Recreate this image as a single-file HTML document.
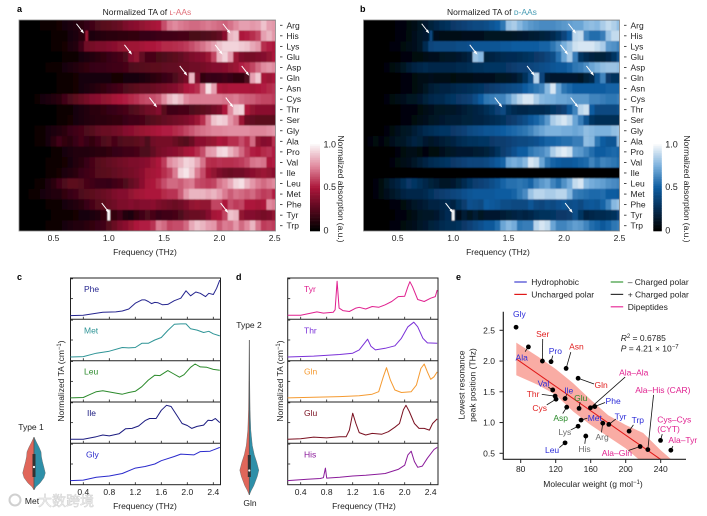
<!DOCTYPE html>
<html lang="en">
<head>
<meta charset="utf-8">
<title>Normalized TA of amino acids</title>
<style>
html,body{margin:0;padding:0;background:#fff;width:707px;height:516px;overflow:hidden}
svg{display:block;filter:blur(0.3px)}
text{font-family:"Liberation Sans","Noto Sans CJK SC",sans-serif;font-size:8.5px;fill:#222}
.bold{font-weight:700;font-size:9px;fill:#000}
</style>
</head>
<body>
<svg id="chart" xmlns="http://www.w3.org/2000/svg" width="707" height="516" viewBox="0 0 707 516">
<defs>
<filter id="soft" x="-2%" y="-2%" width="104%" height="104%"><feGaussianBlur stdDeviation="0.55"/></filter>
<clipPath id="clipA"><rect x="19" y="20" width="256.5" height="211"/></clipPath>
<clipPath id="clipB"><rect x="363.5" y="20" width="256" height="211"/></clipPath>
<clipPath id="clipE"><rect x="503" y="300" width="184" height="159.3"/></clipPath>
</defs>
<g id="root"></g>
</svg>
<script>
const rowNames=['Arg','His','Lys','Glu','Asp','Gln','Asn','Cys','Thr','Ser','Gly','Ala','Pro','Val','Ile','Leu','Met','Phe','Tyr','Trp'];
const heatFreqStart=0.2;
const heatFreqStep=0.05;
const heatTicks=[0.5,1.0,1.5,2.0,2.5];
const colorbarTicks=[0,0.5,1.0];

const redArg=[0,0,0,0,2,3,4,5,6,8,10,12,15,18,22,25,26,28,30,35,38,40,42,45,48,50,62,72,75,72,70,68,68,70,72,70,68,66,70,75,80,80,78,80,88,80,78];
const redHis=[0,0,0,0,0,1,2,3,4,6,8,12,14,8,10,11,12,12,13,13,14,14,15,15,16,17,18,18,19,20,20,21,21,22,23,25,28,40,85,88,50,52,55,60,80,85,78];
const redLys=[0,0,0,0,0,1,2,3,5,8,10,18,32,34,36,36,38,40,42,44,46,46,48,50,50,52,54,54,55,56,58,62,66,70,75,80,88,92,92,92,90,88,82,78,55,52,50];
const redGlu=[0,0,0,0,0,0,1,1,2,3,4,6,8,10,12,14,16,18,20,22,38,42,28,20,20,21,22,24,26,28,32,36,38,40,45,60,85,92,80,45,36,34,34,36,38,42,50];
const redAsp=[0,0,0,0,1,2,3,4,6,8,10,12,14,15,16,16,17,18,18,20,22,23,24,25,26,26,27,28,28,30,30,32,32,34,36,38,38,40,42,45,52,55,60,68,75,78,75];
const redGln=[0,0,0,0,0,1,1,2,3,4,5,6,6,6,7,7,6,5,5,6,6,7,8,10,12,14,16,18,22,28,34,85,35,14,16,15,16,18,16,14,14,22,80,90,48,45,50];
const redAsn=[0,0,0,0,0,1,1,2,3,4,5,6,8,10,12,14,16,18,20,22,24,26,28,28,30,32,34,36,38,42,50,52,55,70,95,80,50,48,50,50,50,50,48,50,52,54,56];
const redCys=[0,0,0,2,6,8,10,12,18,22,26,30,34,38,40,42,44,48,50,52,54,56,60,62,62,65,75,85,90,85,75,72,72,72,72,72,72,70,70,72,68,66,65,62,60,60,58];
const redThr=[0,0,0,0,0,0,1,2,3,4,6,8,10,12,12,14,15,16,18,20,22,24,28,32,34,38,25,18,18,20,20,22,24,26,28,32,36,50,75,90,92,50,42,40,40,40,38];
const redSer=[0,0,0,0,0,0,1,2,3,5,6,8,10,11,12,12,13,14,14,16,18,18,20,22,24,26,28,30,32,34,36,40,45,55,72,88,92,90,78,70,45,30,28,26,26,26,26];
const redGly=[0,0,0,2,4,6,8,10,12,16,18,20,22,24,28,30,30,32,34,38,40,42,44,46,48,50,52,52,54,56,60,64,68,70,72,74,74,75,76,76,76,76,74,74,74,76,78];
const redAla=[0,0,1,2,4,6,12,18,14,12,16,20,16,14,18,22,24,20,22,24,24,26,28,22,32,34,34,34,30,26,24,30,40,40,42,44,50,48,55,55,62,55,68,42,38,40,55];
const redPro=[0,0,0,0,1,1,2,4,6,8,10,10,10,11,12,12,14,15,16,18,18,20,22,22,28,34,36,38,40,42,48,50,55,62,78,80,92,94,85,78,68,58,52,50,54,56,52];
const redVal=[0,0,0,0,1,2,3,4,5,7,10,12,16,20,24,26,28,30,32,34,36,36,38,40,45,50,58,75,80,85,92,90,82,70,55,54,56,55,55,56,58,62,70,72,70,50,52];
const redIle=[0,0,0,0,1,2,3,5,8,10,12,16,18,20,24,25,26,28,30,32,34,36,40,46,48,50,55,60,72,92,96,88,72,62,48,42,36,32,30,32,32,36,40,42,45,42,40];
const redLeu=[0,0,1,2,4,8,12,18,22,26,26,24,20,18,16,16,15,18,20,22,28,32,40,48,50,55,62,68,68,65,70,72,62,60,58,60,70,75,82,92,95,85,78,72,68,72,75];
const redMet=[0,1,3,4,6,8,10,10,14,16,18,22,24,26,28,30,32,36,38,38,42,46,48,50,50,50,54,56,56,65,78,85,85,85,82,85,80,72,65,70,68,65,68,62,58,60,52];
const redPhe=[0,0,0,0,1,2,3,4,6,8,10,12,16,20,24,26,30,32,36,36,38,36,38,38,40,36,34,32,30,32,36,42,44,42,42,60,60,50,62,58,60,50,50,48,50,75,72];
const redTyr=[0,0,0,0,0,1,2,3,4,4,5,6,6,8,10,14,20,14,18,10,8,14,18,22,20,16,18,18,20,22,28,30,30,32,38,48,50,60,88,85,42,38,38,36,34,36,42];
const redTrp=[0,0,0,0,1,2,3,4,6,8,10,10,12,14,16,18,24,30,36,40,44,50,52,52,56,72,68,60,62,62,68,82,88,85,80,78,65,72,70,78,68,75,85,70,58,60,58];
const redRows=[redArg,redHis,redLys,redGlu,redAsp,redGln,redAsn,redCys,redThr,redSer,redGly,redAla,redPro,redVal,redIle,redLeu,redMet,redPhe,redTyr,redTrp];

const blueArg=[0,0,0,0,0,1,2,3,4,6,10,14,18,22,26,28,32,34,36,38,40,40,42,46,50,58,82,85,78,72,68,66,64,64,64,66,68,70,72,72,78,80,78,85,90,86,80];
const blueHis=[0,0,0,0,0,1,2,3,5,8,12,14,18,8,6,6,7,7,8,8,8,9,10,10,10,11,11,12,13,14,15,16,18,20,24,30,38,50,88,90,62,55,55,60,82,90,90];
const blueLys=[0,0,0,0,1,2,3,4,6,8,12,24,38,40,40,40,40,42,42,44,46,46,46,46,46,48,48,50,50,50,50,50,52,52,58,65,75,82,92,94,94,94,90,85,68,66,62];
const blueGlu=[0,0,0,0,0,0,1,2,3,4,5,6,8,8,10,12,12,14,16,20,82,78,18,20,22,24,25,25,26,28,30,32,34,38,42,56,72,85,60,30,24,20,18,18,22,30,42];
const blueAsp=[0,0,0,0,2,4,6,10,16,20,22,24,22,22,22,22,22,24,24,26,28,28,30,30,30,30,32,34,36,36,38,40,42,44,46,48,48,52,58,60,65,72,76,80,82,82,80];
const blueGln=[0,0,0,0,0,1,1,2,3,4,6,6,8,7,6,6,5,6,6,7,8,8,8,9,10,11,12,14,18,28,42,88,38,16,14,14,14,14,14,12,18,22,45,62,32,28,28];
const blueAsn=[0,0,0,0,0,1,1,2,3,4,6,10,16,18,20,20,22,24,25,26,28,30,32,34,36,38,40,42,44,50,54,58,62,78,94,72,58,54,50,50,50,50,50,50,52,52,52];
const blueCys=[0,0,0,1,3,5,6,8,10,10,14,18,22,24,24,28,30,32,34,36,42,50,58,60,62,62,70,80,88,94,94,85,78,76,75,72,72,70,68,68,68,62,62,60,58,58,60];
const blueThr=[0,0,0,0,0,0,1,2,2,3,4,6,8,10,10,12,12,14,16,18,20,22,26,30,36,40,28,24,22,22,24,24,24,26,30,32,36,48,62,88,92,50,40,40,40,40,42];
const blueSer=[0,0,0,0,0,0,1,2,3,5,6,8,10,12,14,15,16,16,18,18,20,20,22,24,26,28,32,34,38,42,48,52,58,68,85,90,94,88,72,60,45,30,26,26,26,26,26];
const blueGly=[0,0,0,1,3,5,8,10,12,16,20,24,26,28,30,30,32,34,36,40,42,44,46,46,48,50,52,54,56,58,62,68,72,76,76,76,74,74,72,74,80,78,76,76,76,80,82];
const blueAla=[0,2,5,3,4,8,10,12,16,20,18,14,12,14,16,18,20,24,26,28,28,30,30,32,34,34,36,38,40,40,42,44,48,52,52,54,56,56,60,60,80,78,58,50,46,46,78];
const bluePro=[0,0,0,0,1,1,2,4,6,6,4,3,4,5,8,10,12,14,14,14,15,16,18,22,28,34,38,44,50,50,58,62,64,70,85,92,96,92,70,68,62,55,50,50,52,54,52];
const blueVal=[0,0,0,0,1,2,4,6,8,12,16,20,24,26,28,30,32,34,36,38,38,38,40,44,48,52,72,75,72,78,94,90,72,58,52,50,48,48,50,52,54,62,56,62,60,58,55];
const blueIle=[0,0,0,0,0,0,0,0,0,0,0,0,0,0,0,0,0,0,0,0,0,0,0,0,0,0,0,0,0,0,0,0,0,0,0,0,0,0,0,0,0,0,0,0,0,0,0];
const blueLeu=[0,0,2,5,10,16,20,26,32,30,26,22,18,16,12,12,14,18,24,30,34,36,38,42,46,52,56,56,58,56,52,62,68,72,62,56,66,74,90,94,78,74,72,70,66,64,62];
const blueMet=[0,1,3,5,8,12,15,20,22,22,22,24,28,32,34,36,38,40,44,46,48,48,48,48,50,50,50,52,58,64,82,88,88,85,85,88,88,78,60,58,56,54,54,55,50,50,48];
const bluePhe=[0,0,0,0,1,2,3,5,8,12,14,16,20,20,22,24,20,28,34,44,42,40,50,48,46,42,42,40,40,40,46,40,38,42,40,44,46,42,44,40,46,48,46,52,62,78,82];
const blueTyr=[0,0,0,0,0,1,2,3,4,6,10,12,12,14,20,25,20,8,16,10,16,10,14,14,14,16,18,20,22,20,22,26,28,28,30,32,32,34,42,30,20,22,24,24,26,28,36];
const blueTrp=[0,0,0,0,1,2,3,4,6,8,12,14,18,20,24,26,26,28,32,36,40,44,48,48,55,72,78,74,58,60,60,88,94,90,72,62,62,66,70,68,62,55,52,48,52,58,60];
const blueRows=[blueArg,blueHis,blueLys,blueGlu,blueAsp,blueGln,blueAsn,blueCys,blueThr,blueSer,blueGly,blueAla,bluePro,blueVal,blueIle,blueLeu,blueMet,bluePhe,blueTyr,blueTrp];

const narrowRowsRed=['His','Tyr'];
const narrowFreqsRed=[0.8,1.0];
const narrowValsRed=[0.45,1.0];
const narrowRowsBlue=['His','Tyr'];
const narrowFreqsBlue=[0.8,1.0];
const narrowValsBlue=[0.4,1.0];

const arrowRowsRed=['His','His','Glu','Glu','Gln','Gln','Thr','Thr','Tyr','Tyr'];
const arrowFreqsRed=[0.776,2.10,1.21,2.03,1.71,2.27,1.436,2.126,1.005,2.08];
const arrowRowsBlue=['His','His','Glu','Glu','Gln','Gln','Thr','Thr','Tyr','Tyr'];
const arrowFreqsBlue=[0.785,2.108,1.218,2.036,1.735,2.27,1.443,2.128,1.0,2.078];

const lineTicks=[0.4,0.8,1.2,1.6,2.0,2.4];
const cPheF=[.2,.4,.6,.7,.9,1.0,1.1,1.2,1.3,1.35,1.4,1.45,1.5,1.55,1.62,1.7,1.8,1.9,1.98,2.05,2.13,2.2,2.28,2.33,2.4,2.45,2.5];
const cPheV=[.09,.1,.145,.17,.18,.2,.25,.39,.47,.47,.43,.38,.41,.40,.35,.36,.45,.51,.69,.57,.66,.63,.55,.63,.60,.75,.95];
const cMetF=[.2,.4,.6,.8,1.0,1.1,1.2,1.3,1.4,1.5,1.6,1.7,1.8,1.9,1.98,2.05,2.15,2.25,2.33,2.4,2.5];
const cMetV=[.09,.1,.18,.23,.32,.31,.32,.42,.42,.5,.56,.73,.88,.89,.89,.77,.74,.68,.71,.65,.6];
const cLeuF=[.2,.4,.5,.6,.7,.85,1.0,1.1,1.2,1.3,1.4,1.5,1.58,1.7,1.78,1.88,1.95,2.05,2.12,2.2,2.3,2.4,2.5];
const cLeuV=[.1,.11,.18,.25,.27,.23,.19,.23,.26,.37,.53,.65,.64,.76,.69,.6,.66,.84,.92,.85,.84,.79,.77];
const cIleF=[.2,.4,.6,.7,.8,.95,1.05,1.15,1.25,1.35,1.42,1.52,1.6,1.68,1.75,1.85,1.92,2.0,2.07,2.15,2.25,2.32,2.38,2.43,2.5];
const cIleV=[.1,.1,.16,.2,.18,.23,.35,.36,.42,.55,.6,.6,.8,.92,.89,.65,.48,.43,.36,.41,.44,.56,.55,.6,.5];
const cGlyF=[.2,.4,.6,.8,1.0,1.2,1.35,1.5,1.6,1.8,1.9,2.1,2.2,2.35,2.45,2.5];
const cGlyV=[.1,.11,.18,.21,.27,.4,.44,.5,.58,.68,.74,.72,.8,.81,.87,.9];

const dTyrF=[.2,.4,.55,.65,.75,.9,.93,.96,.99,1.05,1.15,1.25,1.3,1.4,1.5,1.6,1.7,1.8,1.9,2.0,2.05,2.08,2.12,2.2,2.3,2.4,2.47,2.5];
const dTyrV=[.1,.1,.145,.18,.15,.17,.23,.92,.27,.21,.19,.27,.29,.25,.31,.29,.35,.43,.55,.56,.79,.91,.79,.48,.43,.51,.55,.71];
const dThrF=[.2,.6,1.0,1.2,1.3,1.38,1.43,1.48,1.55,1.7,1.85,1.95,2.05,2.14,2.2,2.28,2.35,2.5];
const dThrV=[.09,.11,.15,.18,.26,.42,.52,.35,.26,.3,.36,.54,.82,.93,.82,.54,.43,.42];
const dGlnF=[.2,1.0,1.3,1.5,1.6,1.67,1.72,1.78,1.85,1.95,2.1,2.18,2.25,2.3,2.35,2.4,2.45,2.5];
const dGlnV=[.1,.13,.15,.19,.25,.61,.83,.53,.29,.23,.25,.41,.81,.92,.73,.55,.61,.73];
const dGluF=[.2,.4,.6,.8,1.0,1.1,1.15,1.2,1.25,1.3,1.4,1.5,1.65,1.75,1.85,1.92,1.98,2.02,2.07,2.15,2.22,2.3,2.38,2.43,2.5];
const dGluV=[.1,.11,.15,.13,.16,.16,.32,.73,.48,.26,.2,.24,.22,.28,.39,.48,.81,.92,.77,.48,.36,.36,.32,.48,.59];
const dHisF=[.2,.5,.7,.75,.78,.8,1.0,1.2,1.4,1.7,1.9,2.0,2.05,2.1,2.15,2.2,2.27,2.35,2.45,2.5];
const dHisV=[.1,.13,.15,.17,.4,.16,.18,.21,.23,.27,.37,.47,.72,.81,.56,.42,.45,.64,.85,.9];

const violinMetPos=[0,.1,.19,.28,.38,.47,.57,.68,.77,.87,.94,1];
const violinMetDensity=[0,.22,.44,.62,.66,.75,.88,1,.88,.53,.18,0];
const violinGlnPos=[0,.26,.45,.58,.68,.74,.79,.84,.88,.94,.97,1];
const violinGlnDensity=[0,.04,.08,.16,.32,.53,.79,1,.84,.47,.21,0];

const scatterNames=['Gly','Ala','Ser','Pro','Asn','Gln','Val','Thr','Cys','Ile','Asp','Glu','Ala–Ala','Phe','Met','Lys','Arg','Tyr','Trp','His','Leu','Ala–Gln','Ala–His (CAR)','Cys–Cys','Ala–Tyr'];
const scatterWeights=[74.7,88.8,104.8,114.7,131.9,145.6,116.6,119.3,120.4,130.7,132.6,146.7,159.7,164.7,149,145.6,173.8,180.7,203.9,154.4,130.7,216.5,225.3,239.8,251.6];
const scatterPeaks=[2.55,2.23,2.0,1.99,1.88,1.72,1.53,1.43,1.38,1.39,1.25,1.23,1.24,1.26,1.04,.94,.99,.97,.86,.78,.67,.61,.56,.71,.55];
const scatterGroups=['h','h','u','h','u','u','h','u','u','h','n','n','d','h','h','p','p','h','h','p','h','d','d','d','d'];
const fitWeights=[75.4,240];
const fitPeaks=[2.03,.40];
const bandUpperWeights=[75,100,120,140,160,180,200,220,240,252];
const bandUpperPeaks=[2.30,2.07,1.87,1.64,1.37,1.12,.96,.83,.55,.40];
const bandLowerWeights=[215,200,180,160,140,120,100,75];
const bandLowerPeaks=[.40,.58,.77,.96,1.18,1.45,1.61,1.77];
const scatterXTicks=[80,120,160,200,240];
const scatterYTicks=[0.5,1.0,1.5,2.0,2.5];

const labelDX=[3.3,-6.7,.3,4.3,10.3,23,-9.3,-22,-16.3,3.7,-6,1.7,43.3,18.3,13.7,-13.3,-.7,11.7,8.7,-1.3,-13,-23.3,15,13.7,12];
const labelDY=[-13,10.7,-27.3,-10.7,-22,6.7,-6.3,-2.3,9,-8.3,11,-10.3,-35.3,-5.7,-2.3,6,14,-8,-11,12.7,7.3,6.7,-59.7,-21,-10];
const leaderDX=[0,-3.3,.3,1.7,4.7,16,-4.3,-13.3,-9.3,1.7,-4,1,34.7,10.3,6.3,-7.3,-1.3,7,4.3,-1,-5.7,-11.7,5.7,1.7,2];
const leaderDY=[0,4.7,-22,-6,-16.3,5.7,-2.7,-1.7,5.7,-4.3,6.3,-6.3,-30.7,-4,-2,3.7,9.3,-5.3,-6.3,7.7,4.7,4,-54.7,-6.3,-4];

const NS='http://www.w3.org/2000/svg';
const root=document.getElementById('root');
function svgEl(parent,tag,attrs,txt){
  const e=document.createElementNS(NS,tag);
  for(const k in attrs)e.setAttribute(k,attrs[k]);
  if(txt!==undefined)e.textContent=txt;
  parent.appendChild(e);
  return e;
}
function mix(stops,v){
  v=Math.max(0,Math.min(1,v));
  const n=stops.length-1,i=Math.min(n-1,Math.floor(v*n)),t=v*n-i;
  const a=stops[i],b=stops[i+1];
  return 'rgb('+[0,1,2].map(c=>Math.round(a[c]+(b[c]-a[c])*t)).join(',')+')';
}
const redStops=[[0,0,0],[88,8,30],[172,22,58],[224,138,158],[250,245,246]];
const blueStops=[[0,0,0],[5,44,82],[12,92,160],[120,175,220],[245,248,250]];
const axisDark='#222';

function heatmap(opt){
  const yRow=i=>opt.top+i*(opt.bottom-opt.top)/rowNames.length;
  const rowH=(opt.bottom-opt.top)/rowNames.length;
  const x=f=>opt.x05+(f-0.5)*opt.scale;
  const g=svgEl(root,'g',{'clip-path':'url(#'+opt.clip+')'});
  
  
  const bg=svgEl(g,'rect',{x:opt.left,y:opt.top,width:opt.right-opt.left,height:opt.bottom-opt.top,fill:'#000'});
  
  
  const cells=svgEl(g,'g',{filter:'url(#soft)'});
  
  
  opt.rows.forEach((vals,r)=>{
    vals.forEach((v,c)=>{
      const f=heatFreqStart+c*heatFreqStep;
      const cell=svgEl(cells,'rect',{x:x(f-heatFreqStep/2),y:yRow(r),width:heatFreqStep*opt.scale+.4,height:rowH+.2,fill:mix(opt.stops,v/100)});
      
      
    });
  });
  opt.narrowRows.forEach((nm,i)=>{
    const r=rowNames.indexOf(nm);
    const nc=svgEl(cells,'rect',{x:x(opt.narrowFreqs[i])-1.3,y:yRow(r),width:2.6,height:rowH,fill:mix(opt.stops,opt.narrowVals[i])});
    
    
  });
  opt.arrowRows.forEach((nm,i)=>{
    const r=rowNames.indexOf(nm);
    const tx=x(opt.arrowFreqs[i]),ty=yRow(r)+3;
    const l=svgEl(g,'line',{x1:tx-7.6,y1:ty-9.8,x2:tx-1,y2:ty-1.3,stroke:'#fff','stroke-width':1});
    
    
    const h=svgEl(g,'polygon',{points:`${tx},${ty} ${tx-3.6},${ty-2.2} ${tx-1.4},${ty-4.2}`,fill:'#fff'});
    
    
  });
  const frame=svgEl(root,'rect',{x:opt.left,y:opt.top,width:opt.right-opt.left,height:opt.bottom-opt.top,fill:'none',stroke:'#8a8a8a','stroke-width':.8});
  
  
  rowNames.forEach((nm,i)=>{
    const cy=yRow(i)+rowH/2;
    const d=svgEl(root,'line',{x1:opt.right+4.5,x2:opt.right+7,y1:cy,y2:cy,stroke:axisDark,'stroke-width':.8});
    
    
    const t=svgEl(root,'text',{x:opt.right+11,y:cy+3},nm);
    
    
  });
  heatTicks.forEach(f=>{
    const t=svgEl(root,'text',{x:x(f),y:241,'text-anchor':'middle'},f.toFixed(1));
    
    
  });
  const xt=svgEl(root,'text',{x:opt.titleX,y:255,'text-anchor':'middle'},'Frequency (THz)');
  
  
  const cbG=svgEl(root,'g',{});
  
  
  const cbTop=144.3,cbBot=231,steps=50;
  for(let i=0;i<steps;i++){
    const s=svgEl(cbG,'rect',{x:opt.cbX,y:cbTop+i*(cbBot-cbTop)/steps,width:opt.cbW,height:(cbBot-cbTop)/steps+.3,fill:mix(opt.stops,1-i/(steps-1))});
    
    
  }
  colorbarTicks.forEach(v=>{
    const t=svgEl(root,'text',{x:opt.cbX+opt.cbW+3.5,y:cbBot-v*(cbBot-cbTop)+2.5-(v===1?-.5:0),style:'font-size:9px'},v===0?'0':v.toFixed(1));
    
    
  });
  const cl=svgEl(root,'text',{x:0,y:0,transform:`translate(${opt.cbLabelX},189) rotate(90)`,'text-anchor':'middle'},'Normalized absorption (a.u.)');
  
  
}
heatmap({name:'panel-a',rows:redRows,stops:redStops,left:19,right:275.5,top:20,bottom:231,x05:53.5,scale:110.6,clip:'clipA',narrowRows:narrowRowsRed,narrowFreqs:narrowFreqsRed,narrowVals:narrowValsRed,arrowRows:arrowRowsRed,arrowFreqs:arrowFreqsRed,cbX:310,cbW:10,cbLabelX:338,titleX:145});
heatmap({name:'panel-b',rows:blueRows,stops:blueStops,left:363.5,right:619.5,top:20,bottom:231,x05:397.7,scale:110.9,clip:'clipB',narrowRows:narrowRowsBlue,narrowFreqs:narrowFreqsBlue,narrowVals:narrowValsBlue,arrowRows:arrowRowsBlue,arrowFreqs:arrowFreqsBlue,cbX:653.3,cbW:8.5,cbLabelX:684,titleX:498});

function staticText(x,y,s,name,extra){
  const t=svgEl(root,'text',Object.assign({x:x,y:y},extra||{}),s);
  
  
  return t;
}
staticText(17,12,'a','panel-label-a',{class:'bold'});
staticText(360,12,'b','panel-label-b',{class:'bold'});
staticText(17,280,'c','panel-label-c',{class:'bold'});
staticText(236,280,'d','panel-label-d',{class:'bold'});
staticText(456,280,'e','panel-label-e',{class:'bold'});
const tA=staticText(147,15,'Normalized TA of ','panel-a-title',{'text-anchor':'middle'});
const tAs=svgEl(tA,'tspan',{style:'fill:#e0707a'},'ʟ-AAs');


const tB=staticText(492,15,'Normalized TA of ','panel-b-title',{'text-anchor':'middle'});
const tBs=svgEl(tB,'tspan',{style:'fill:#4a9db5'},'ᴅ-AAs');



const panelEdges=[278,319.3,360.7,402,443.3,484.7];
function stacked(opt){
  const x=f=>opt.x04+(f-0.4)*65;
  const frame=svgEl(root,'rect',{x:opt.left,y:panelEdges[0],width:opt.right-opt.left,height:panelEdges[5]-panelEdges[0],fill:'none',stroke:axisDark,'stroke-width':1});
  
  
  opt.series.forEach((s,i)=>{
    const top=panelEdges[i],bot=panelEdges[i+1];
    if(i>0){
      const sep=svgEl(root,'line',{x1:opt.left,x2:opt.right,y1:top,y2:top,stroke:axisDark,'stroke-width':1});
      
      
    }
    [0.02,.5].forEach(fr=>{
      const yy=top+(bot-top)*fr;
      const tk=svgEl(root,'line',{x1:opt.left,x2:opt.left+2.5,y1:yy,y2:yy,stroke:axisDark,'stroke-width':.8});
      
      
    });
    lineTicks.forEach(f=>{
      const tk=svgEl(root,'line',{x1:x(f),x2:x(f),y1:bot,y2:bot-2.5,stroke:axisDark,'stroke-width':.8});
      
      
    });
    const y=v=>bot-v*(bot-top);
    const pts=s.f.map((f,k)=>x(f).toFixed(1)+','+y(s.v[k]).toFixed(1)).join(' ');
    const pl=svgEl(root,'polyline',{points:pts,fill:'none',stroke:s.color,'stroke-width':1,'stroke-linejoin':'round'});
    
    
    const lb=svgEl(root,'text',{x:opt.labelX+(s.dx||0),y:top+14,style:'fill:'+s.color},s.label);
    
    
  });
  lineTicks.forEach(f=>{
    const t=svgEl(root,'text',{x:x(f),y:495,'text-anchor':'middle'},f.toFixed(1));
    
    
  });
  const xt=svgEl(root,'text',{x:opt.titleX,y:509,'text-anchor':'middle'},'Frequency (THz)');
  
  
  const yt=svgEl(root,'text',{x:0,y:0,transform:`translate(${opt.yTitleX},381) rotate(-90)`,'text-anchor':'middle'});
  
  
  yt.textContent='Normalized TA (cm';
  const sup=svgEl(yt,'tspan',{dy:-3,style:'font-size:6px'},'−1');
  
  
  const cls=svgEl(yt,'tspan',{dy:3},')');
  
  
}
stacked({name:'panel-c',left:70.5,right:220.5,x04:83.3,labelX:84,titleX:145,yTitleX:64,series:[
 {f:cPheF,v:cPheV,color:'#25258f',label:'Phe'},
 {f:cMetF,v:cMetV,color:'#2e9496',label:'Met'},
 {f:cLeuF,v:cLeuV,color:'#2b8a2b',label:'Leu'},
 {f:cIleF,v:cIleV,color:'#1b1b80',label:'Ile',dx:3},
 {f:cGlyF,v:cGlyV,color:'#2a2acc',label:'Gly',dx:2}]});
stacked({name:'panel-d',left:287.7,right:438,x04:300.7,labelX:304,titleX:364,yTitleX:283,series:[
 {f:dTyrF,v:dTyrV,color:'#e0208f',label:'Tyr'},
 {f:dThrF,v:dThrV,color:'#7a30d8',label:'Thr'},
 {f:dGlnF,v:dGlnV,color:'#f59a30',label:'Gln'},
 {f:dGluF,v:dGluV,color:'#7a1020',label:'Glu'},
 {f:dHisF,v:dHisV,color:'#8a1a9a',label:'His'}]});

function violin(opt){
  const g=svgEl(root,'g',{});
  
  
  const y=p=>opt.top+p*(opt.bottom-opt.top);
  let left=`M${opt.cx},${opt.top}`,right=`M${opt.cx},${opt.top}`;
  opt.pos.forEach((p,i)=>{
    left+=` L${(opt.cx-opt.dens[i]*opt.maxW).toFixed(1)},${y(p).toFixed(1)}`;
    right+=` L${(opt.cx+opt.dens[i]*opt.maxW).toFixed(1)},${y(p).toFixed(1)}`;
  });
  const l=svgEl(g,'path',{d:left+' Z',fill:'#e0665a',stroke:'#666','stroke-width':.4});
  
  
  const r=svgEl(g,'path',{d:right+' Z',fill:'#2e8fa8',stroke:'#666','stroke-width':.4});
  
  
  const wh=svgEl(g,'line',{x1:opt.cx,x2:opt.cx,y1:opt.top,y2:opt.bottom,stroke:'#555','stroke-width':.8});
  
  
  const b=svgEl(g,'rect',{x:opt.cx-1.5,y:opt.boxTop,width:3,height:opt.boxBot-opt.boxTop,fill:'#333'});
  
  
  const d=svgEl(g,'circle',{cx:opt.cx,cy:opt.med,r:1.1,fill:'#fff'});
  
  
}
violin({name:'violin-type-1',cx:34,top:437,bottom:490,maxW:11.3,pos:violinMetPos,dens:violinMetDensity,boxTop:454,boxBot:477,med:467});
violin({name:'violin-type-2',cx:249.3,top:340,bottom:495,maxW:9.5,pos:violinGlnPos,dens:violinGlnDensity,boxTop:455,boxBot:477,med:470.5});
staticText(31,430,'Type 1','violin-type-1-title',{'text-anchor':'middle'});
staticText(249,328,'Type 2','violin-type-2-title',{'text-anchor':'middle'});
staticText(32,504,'Met','violin-met-label',{'text-anchor':'middle'});
staticText(250,506,'Gln','violin-gln-label',{'text-anchor':'middle'});
const wm=svgEl(root,'circle',{cx:15,cy:500,r:5.5,fill:'none',stroke:'#d0d0d0','stroke-width':2});


const wmt=svgEl(root,'text',{x:38,y:506,style:'font-size:14px;fill:#f4f4f4;stroke:#cfcfcf;stroke-width:.5;letter-spacing:0'},'大数跨境');



const sx=m=>520.7+(m-80)*0.875;
const sy=v=>453.3-(v-.5)*61.5;
const groupColors={h:'#2a2ad8',u:'#e02020',n:'#2a8a2a',p:'#6a6a6a',d:'#e0208f'};
const eG=svgEl(root,'g',{'clip-path':'url(#clipE)'});


const bandPts=bandUpperWeights.map((m,i)=>sx(m).toFixed(1)+','+sy(bandUpperPeaks[i]).toFixed(1)).concat(bandLowerWeights.map((m,i)=>sx(m).toFixed(1)+','+sy(bandLowerPeaks[i]).toFixed(1))).join(' ');
const band=svgEl(eG,'polygon',{points:bandPts,fill:'#f9aca4'});


const fit=svgEl(eG,'line',{x1:sx(fitWeights[0]),y1:sy(fitPeaks[0]),x2:sx(fitWeights[1]),y2:sy(fitPeaks[1]),stroke:'#e01818','stroke-width':1});


const eAxis=svgEl(root,'path',{d:'M503.3,311.7 V459.3 H686',fill:'none',stroke:axisDark,'stroke-width':1.2});


scatterXTicks.forEach(m=>{
  const tk=svgEl(root,'line',{x1:sx(m),x2:sx(m),y1:459.3,y2:463,stroke:axisDark,'stroke-width':1});
  
  
  const t=svgEl(root,'text',{x:sx(m),y:472,'text-anchor':'middle'},String(m));
  
  
});
scatterYTicks.forEach(v=>{
  const tk=svgEl(root,'line',{x1:499.5,x2:503.3,y1:sy(v),y2:sy(v),stroke:axisDark,'stroke-width':1});
  
  
  const t=svgEl(root,'text',{x:495,y:sy(v)+3,'text-anchor':'end'},v.toFixed(1));
  
  
});
scatterNames.forEach((nm,i)=>{
  const px=sx(scatterWeights[i]),py=sy(scatterPeaks[i]);
  if(leaderDX[i]||leaderDY[i]){
    const ln=svgEl(root,'line',{x1:px,y1:py,x2:px+leaderDX[i],y2:py+leaderDY[i],stroke:'#111','stroke-width':.8});
    
    
  }
  const c=svgEl(root,'circle',{cx:px,cy:py,r:2.4,fill:'#000'});
  
  
  const t=svgEl(root,'text',{x:px+labelDX[i],y:py+labelDY[i]+3,'text-anchor':'middle',style:'fill:'+groupColors[scatterGroups[i]]},nm);
  
  
  if(nm==='Cys–Cys'){
    const t2=svgEl(root,'text',{x:px+labelDX[i]-5.7,y:py+labelDY[i]+12.7,'text-anchor':'middle',style:'fill:'+groupColors[scatterGroups[i]]},'(CYT)');
    
    
  }
});

const legendLabels=['Hydrophobic','Uncharged polar','– Charged polar','+ Charged polar','Dipeptides'];
const legendColors=['#4040d0','#e01818','#3a9a3a','#333','#e8309a'];
legendLabels.forEach((s,i)=>{
  const right=i>=2;
  const row=right?i-2:i;
  const ly=282+row*12.4;
  const x1=right?610.7:514.3;
  const ln=svgEl(root,'line',{x1:x1,x2:x1+12.5,y1:ly,y2:ly,stroke:legendColors[i],'stroke-width':1.2});
  
  
  const t=svgEl(root,'text',{x:x1+17,y:ly+3},s);
  
  
});
const r2=staticText(620.7,341,'','r-squared-annotation',{});
const r2i=svgEl(r2,'tspan',{style:'font-style:italic'},'R');


const r2s=svgEl(r2,'tspan',{dy:-3,style:'font-size:6px'},'2');


const r2v=svgEl(r2,'tspan',{dy:3},' = 0.6785');


const pv=staticText(620.7,351.5,'','p-value-annotation',{});
const pi=svgEl(pv,'tspan',{style:'font-style:italic'},'P');


const pvv=svgEl(pv,'tspan',{},' = 4.21 × 10');


const pe=svgEl(pv,'tspan',{dy:-3,style:'font-size:6px'},'−7');


staticText(0,0,'Lowest resonance','panel-e-y-axis-title-line-1',{transform:'translate(464.5,385) rotate(-90)','text-anchor':'middle'});
staticText(0,0,'peak position  (THz)','panel-e-y-axis-title-line-2',{transform:'translate(475.5,385) rotate(-90)','text-anchor':'middle'});
const xtE=staticText(593,487,'Molecular weight (g mol','panel-e-x-axis-title',{'text-anchor':'middle'});
const xtS=svgEl(xtE,'tspan',{dy:-3,style:'font-size:6px'},'−1');


const xtC=svgEl(xtE,'tspan',{dy:3},')');


</script>
</body>
</html>
